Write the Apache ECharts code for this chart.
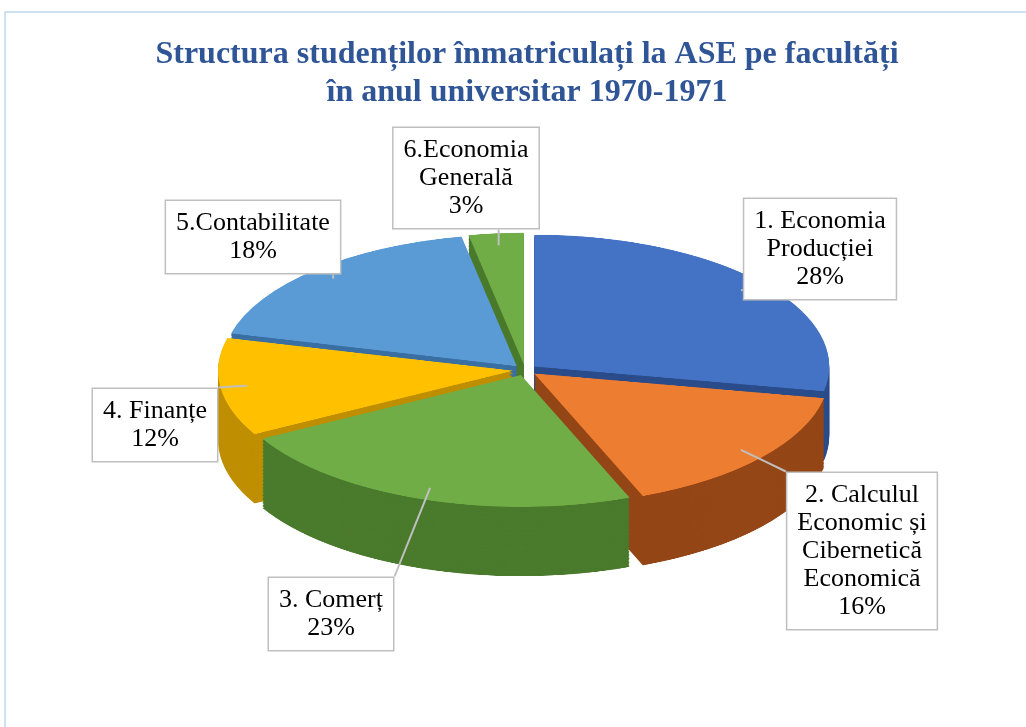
<!DOCTYPE html>
<html>
<head>
<meta charset="utf-8">
<script src="https://cdn.jsdelivr.net/npm/echarts@6/dist/echarts.min.js"></script>
<style>
  body { margin: 0; background: #fff; }
  #wrap { position: relative; width: 1026px; height: 727px; overflow: hidden; }
  #pie { position: absolute; left: 0; top: 0; width: 1026px; height: 1640px;
         transform: scaleY(0.447); transform-origin: 0 0; }
  #labels { position: absolute; left: 0; top: 0; width: 1026px; height: 727px; }
</style>
</head>
<body>
<div id="wrap">
  <div id="pie"></div>
  <div id="labels"></div>
</div>
<script type="text/javascript">

// data
var faculties = [
  '1. Economia\nProducției',
  '2. Calculul\nEconomic și\nCibernetică\nEconomică',
  '3. Comerț',
  '4. Finanțe',
  '5.Contabilitate',
  '6.Economia\nGenerală'
];
var shares = [28, 16, 23, 12, 18, 3];

// look
var topColors  = ['#4472C4', '#ED7D31', '#70AD47', '#FFC000', '#5B9BD5', '#70AD47'];
var sideColors = ['#2B4C8A', '#944616', '#4A7A2C', '#BF8F00', '#3A6FA3', '#4A7A2C'];
var labelSpots = [[820, 249], [862, 551], [331, 614], [155, 425], [253, 237], [466, 178]];

var tilt = 0.447;         // vertical squash of the pie canvas
var cx = 525, cy = 370, radius = 295;
var depth = 155, layers = 50;

// the pie, drawn as stacked layers in a squashed canvas
var pieChart = echarts.init(document.getElementById('pie'));

function sliceData(colors) {
  return faculties.map(function (name, i) {
    return { name: name, value: shares[i], selected: true, itemStyle: { color: colors[i] } };
  });
}

var pieSeries = [];
for (var i = layers; i >= 0; i--) {
  pieSeries.push({
    type: 'pie',
    silent: true,
    animation: false,
    center: [cx, cy / tilt + i * depth / layers],
    radius: radius,
    startAngle: 90,
    clockwise: true,
    selectedMode: 'multiple',
    selectedOffset: 12,
    avoidLabelOverlap: false,
    label: { show: false },
    labelLine: { show: false },
    itemStyle: { borderWidth: 0 },
    select: { itemStyle: { borderWidth: 0 } },
    data: sliceData(i === 0 ? topColors : sideColors)
  });
}
pieChart.setOption({ animation: false, series: pieSeries });

// title, frame and callout labels on top
var labelChart = echarts.init(document.getElementById('labels'));
labelChart.setOption({
  animation: false,
  graphic: [{
    type: 'rect',
    silent: true,
    shape: { x: 5, y: 12, width: 1100, height: 800 },
    style: { fill: 'none', stroke: '#BDD7EE', lineWidth: 1.5 }
  }],
  title: {
    text: 'Structura studenților înmatriculați la ASE pe facultăți\nîn anul universitar 1970-1971',
    left: 522,
    top: 31,
    textAlign: 'center',
    textStyle: {
      fontFamily: 'Liberation Serif',
      fontWeight: 'bold',
      fontSize: 32,
      lineHeight: 38,
      color: '#2F5597'
    }
  },
  series: [{
    type: 'pie',
    silent: true,
    center: [cx, cy],
    radius: radius * 0.95,
    startAngle: 90,
    clockwise: true,
    itemStyle: { color: 'transparent', borderWidth: 0 },
    label: {
      show: true,
      position: 'outside',
      formatter: '{b}\n{d}%',
      fontFamily: 'Liberation Serif',
      fontSize: 26,
      lineHeight: 28,
      color: '#000',
      backgroundColor: '#fff',
      borderColor: '#BFBFBF',
      borderWidth: 1.5,
      padding: [8, 10]
    },
    labelLine: { show: true, lineStyle: { color: '#BFBFBF', width: 2 } },
    labelLayout: function (p) {
      var spot = labelSpots[p.dataIndex];
      var w = p.labelRect.width, h = p.labelRect.height;
      var a = p.labelLinePoints ? p.labelLinePoints[0] : [cx, cy];
      var start = [a[0], cy + (a[1] - cy) * tilt];
      var end = [
        Math.min(Math.max(start[0], spot[0] - w / 2), spot[0] + w / 2),
        Math.min(Math.max(start[1], spot[1] - h / 2), spot[1] + h / 2)
      ];
      return {
        x: spot[0],
        y: spot[1],
        align: 'center',
        verticalAlign: 'middle',
        labelLinePoints: [start, [(start[0] + end[0]) / 2, (start[1] + end[1]) / 2], end]
      };
    },
    data: faculties.map(function (name, i) {
      return { name: name, value: shares[i] };
    })
  }]
});

window.onresize = function () {
  pieChart.resize();
  labelChart.resize();
};
</script>
</body>
</html>
